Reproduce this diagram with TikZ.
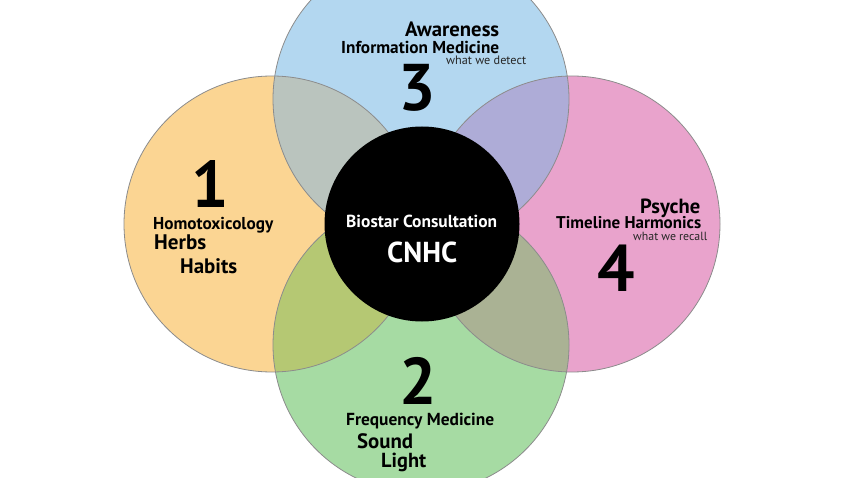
\documentclass[tikz,border=0pt]{standalone}
\usepackage{fontspec}
\setmainfont{PT Sans}
\definecolor{corange}{RGB}{251,213,147}
\definecolor{cblue}{RGB}{179,215,240}
\definecolor{cpink}{RGB}{233,163,204}
\definecolor{cgreen}{RGB}{166,219,163}
\definecolor{cob}{RGB}{186,196,190}
\definecolor{cbp}{RGB}{174,172,215}
\definecolor{cog}{RGB}{181,200,115}
\definecolor{cgp}{RGB}{170,178,148}
\definecolor{cedge}{RGB}{140,140,140}
\newcommand\fw[2]{\resizebox{#1pt}{!}{#2}}
\tikzset{
  ring/.style={draw=cedge, line width=0.8pt},
  lbl/.style={inner sep=0pt, anchor=base west, font=\bfseries, text=black},
  sub/.style={inner sep=0pt, anchor=base west, font=\normalfont, text=black!85},
  digit/.style={inner sep=0pt, anchor=center, font=\fontsize{66}{66}\selectfont\bfseries, text=black},
  wlbl/.style={inner sep=0pt, anchor=base west, font=\bfseries, text=white},
}
\begin{document}
\begin{tikzpicture}[x=1pt,y=-1pt]
\useasboundingbox (0,0) rectangle (848,478);
\fill[white] (0,0) rectangle (848,478);
\coordinate (O) at (272,224);
\coordinate (B) at (421,99);
\coordinate (P) at (572,224);
\coordinate (G) at (421,345);
\coordinate (C) at (422,224);
\begin{scope}
\clip (0,0) rectangle (848,478);
\fill[corange] (O) circle[radius=148pt];
\fill[cblue] (B) circle[radius=148pt];
\fill[cpink] (P) circle[radius=148pt];
\fill[cgreen] (G) circle[radius=148pt];
\begin{scope}\clip (O) circle[radius=148pt]; \fill[cob] (B) circle[radius=148pt];\end{scope}
\begin{scope}\clip (P) circle[radius=148pt]; \fill[cbp] (B) circle[radius=148pt];\end{scope}
\begin{scope}\clip (O) circle[radius=148pt]; \fill[cog] (G) circle[radius=148pt];\end{scope}
\begin{scope}\clip (P) circle[radius=148pt]; \fill[cgp] (G) circle[radius=148pt];\end{scope}
\draw[ring] (O) circle[radius=148pt];
\draw[ring] (B) circle[radius=148pt];
\draw[ring] (P) circle[radius=148pt];
\draw[ring] (G) circle[radius=148pt];
\end{scope}
\node[circle, fill=black, minimum size=195pt, inner sep=0pt] (core) at (C) {};
% circle 1
\node[digit] (d1) at (210,184) {1};
\node[lbl] (t1a) at (153,230) {\fw{120}{Homotoxicology}};
\node[lbl] (t1b) at (154,250) {\fw{52}{Herbs}};
\node[lbl] (t1c) at (180,273) {\fw{57}{Habits}};
% circle 3
\node[lbl] (t3a) at (405,37) {\fw{94}{Awareness}};
\node[lbl] (t3b) at (341,54) {\fw{158}{Information Medicine}};
\node[sub] (t3c) at (446,65) {\fw{80}{what we detect}};
\node[digit] (d3) at (417,88) {3};
% center
\node[wlbl] (tca) at (346,228) {\fw{151}{Biostar Consultation}};
\node[wlbl] (tcb) at (387,262) {\fw{70}{CNHC}};
% circle 4
\node[lbl] (t4a) at (640,214) {\fw{60}{Psyche}};
\node[lbl] (t4b) at (556,229) {\fw{145}{Timeline Harmonics}};
\node[sub] (t4c) at (633,241) {\fw{74}{what we recall}};
\node[digit] (d4) at (616,268) {4};
% circle 2
\node[digit] (d2) at (418,381) {2};
\node[lbl] (t2a) at (346,425) {\fw{148}{Frequency Medicine}};
\node[lbl] (t2b) at (357,448) {\fw{56}{Sound}};
\node[lbl] (t2c) at (381,467) {\fw{45}{Light}};
\end{tikzpicture}
\end{document}
